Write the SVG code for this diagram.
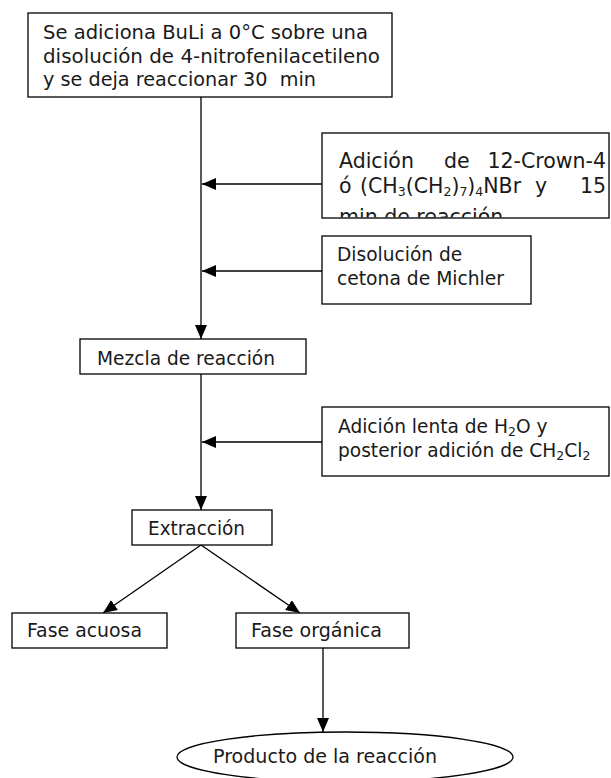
<svg xmlns="http://www.w3.org/2000/svg" width="611" height="778" viewBox="0 0 611 778">
<style>
.box{fill:#fff;stroke:#000;stroke-width:1.3}
.ln{fill:none;stroke:#000;stroke-width:1.3}
text{font-family:"DejaVu Sans","Verdana",sans-serif;fill:#1a1a1a;white-space:pre}
.t18{font-size:19.5px}
.t20{font-size:20.5px}
.t17{font-size:18.6px}
.sub{font-size:12.5px}
</style>
<defs>
<marker id="ah" markerUnits="userSpaceOnUse" markerWidth="14" markerHeight="12" refX="14" refY="6" orient="auto">
<path d="M0,0 L14,6 L0,12 z" fill="#000"/>
</marker>
<clipPath id="c2"><rect x="322" y="133" width="288" height="84.5"/></clipPath>
<clipPath id="c8"><rect x="236" y="613" width="173" height="34.5"/></clipPath>
</defs>
<rect width="611" height="778" fill="#fff"/>
<g id="connectors">
<line class="ln" x1="201" y1="97" x2="201" y2="339" marker-end="url(#ah)"/>
<line class="ln" x1="322" y1="184" x2="202" y2="184" marker-end="url(#ah)"/>
<line class="ln" x1="322" y1="271" x2="202" y2="271" marker-end="url(#ah)"/>
<line class="ln" x1="201" y1="374" x2="201" y2="510" marker-end="url(#ah)"/>
<line class="ln" x1="322" y1="442" x2="202" y2="442" marker-end="url(#ah)"/>
<line class="ln" x1="201" y1="545" x2="103" y2="613" marker-end="url(#ah)"/>
<line class="ln" x1="201" y1="545" x2="300" y2="613" marker-end="url(#ah)"/>
<line class="ln" x1="323" y1="648" x2="323" y2="732" marker-end="url(#ah)"/>
</g>
<g id="n1">
<rect class="box" x="28" y="13" width="364" height="84"/>
<text class="t18" x="43" y="39" textLength="325" lengthAdjust="spacingAndGlyphs">Se adiciona BuLi a 0°C sobre una</text>
<text class="t18" x="43" y="63" textLength="337" lengthAdjust="spacingAndGlyphs">disolución de 4-nitrofenilacetileno</text>
<text class="t18" x="43" y="86" textLength="273" lengthAdjust="spacingAndGlyphs">y se deja reaccionar 30  min</text>
</g>
<g id="n2">
<rect class="box" x="322" y="133" width="287" height="85"/>
<g clip-path="url(#c2)">
<text class="t20" x="339" y="168">Adición</text>
<text class="t20" x="444" y="168">de</text>
<text class="t20" x="606" y="168" text-anchor="end">12-Crown-4</text>
<text class="t20" x="339" y="193">ó</text>
<text class="t20" x="360" y="193">(CH<tspan class="sub" dy="3">3</tspan><tspan dy="-3">(CH</tspan><tspan class="sub" dy="3">2</tspan><tspan dy="-3">)</tspan><tspan class="sub" dy="3">7</tspan><tspan dy="-3">)</tspan><tspan class="sub" dy="3">4</tspan><tspan dy="-3">NBr</tspan></text>
<text class="t20" x="535" y="193">y</text>
<text class="t20" x="606" y="193" text-anchor="end">15</text>
<text class="t20" x="339" y="224">min de reacción</text>
</g>
</g>
<g id="n3">
<rect class="box" x="322" y="236" width="209" height="68"/>
<text class="t17" x="337" y="261">Disolución de</text>
<text class="t17" x="337" y="285" textLength="167" lengthAdjust="spacingAndGlyphs">cetona de Michler</text>
</g>
<g id="n4">
<rect class="box" x="80" y="339" width="226" height="35"/>
<text class="t17" x="97" y="365" textLength="178" lengthAdjust="spacingAndGlyphs">Mezcla de reacción</text>
</g>
<g id="n5">
<rect class="box" x="322" y="407" width="287" height="69"/>
<text class="t17" x="338" y="433">Adición lenta de H<tspan class="sub" dy="3">2</tspan><tspan dy="-3">O y</tspan></text>
<text class="t17" x="338" y="457">posterior adición de CH<tspan class="sub" dy="3">2</tspan><tspan dy="-3">Cl</tspan><tspan class="sub" dy="3">2</tspan></text>
</g>
<g id="n6">
<rect class="box" x="132" y="510" width="140" height="35"/>
<text class="t17" x="148" y="535" textLength="97" lengthAdjust="spacingAndGlyphs">Extracción</text>
</g>
<g id="n7">
<rect class="box" x="12" y="613" width="155" height="35"/>
<text class="t17" x="27" y="637" textLength="115" lengthAdjust="spacingAndGlyphs">Fase acuosa</text>
</g>
<g id="n8">
<rect class="box" x="236" y="613" width="173" height="35"/>
<text class="t17" x="251" y="637" textLength="131" lengthAdjust="spacingAndGlyphs" clip-path="url(#c8)">Fase orgánica</text>
</g>
<g id="n9">
<ellipse class="box" cx="345" cy="757" rx="168" ry="25"/>
<text class="t17" x="213" y="763" textLength="224" lengthAdjust="spacingAndGlyphs">Producto de la reacción</text>
</g>
</svg>
